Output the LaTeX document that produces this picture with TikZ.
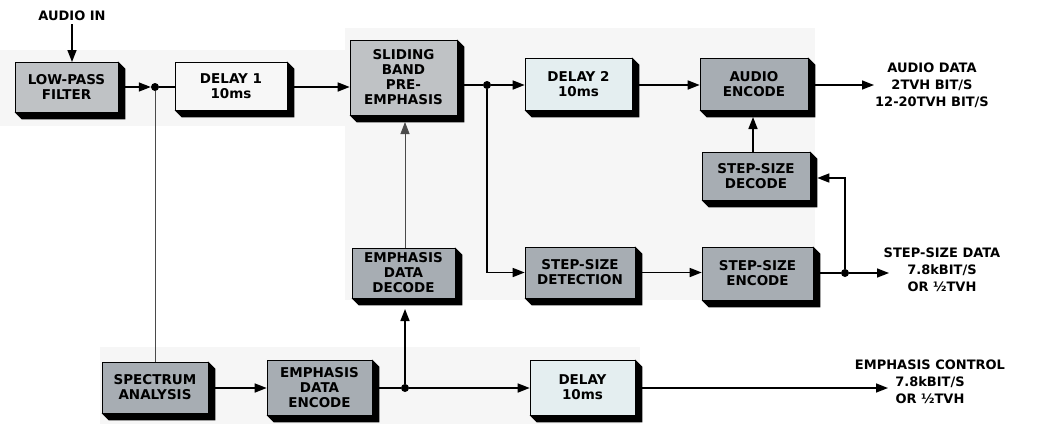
\documentclass[tikz,border=0pt]{standalone}
\usepackage{fontspec}
\setmainfont{DejaVu Sans}
\usetikzlibrary{arrows.meta,calc,backgrounds}
\definecolor{stipple}{HTML}{A7ADB3}
\definecolor{stipplelt}{HTML}{BFC2C5}
\definecolor{paleblue}{HTML}{E4EEF0}
\definecolor{scanbg}{HTML}{F6F6F6}
\definecolor{thinline}{HTML}{4A4A4A}

\begin{document}
\begin{tikzpicture}[x=1pt, y=-1pt,
  blockbox/.style={rectangle, draw=black, line width=0.6pt, inner sep=0pt,
    minimum width=106pt, minimum height=51pt, align=center,
    font=\fontsize{13.5}{15}\selectfont\bfseries},
  greybox/.style={blockbox, fill=stipple},
  lightbox/.style={blockbox, fill=paleblue},
  outlabel/.style={align=center, font=\fontsize{13}{17}\selectfont\bfseries},
  jdot/.style={circle, fill=black, inner sep=0pt, minimum size=8pt},
  conn/.style={line width=1.5pt},
  arr/.style={conn, -{Triangle[length=12pt,width=9pt]}},
  thinconn/.style={draw=thinline, line width=0.8pt},
]
\useasboundingbox (0,0) rectangle (1038,424);

% input
\node[outlabel] (ainlbl) at (72,16) {AUDIO IN};
\node[greybox, fill=stipplelt, minimum width=103pt, minimum height=50pt] (lpf) at (66.5,87) {LOW-PASS\\FILTER};
\draw[arr] (ainlbl.south -| 72,0) -- (72,62);

% top row
\node[jdot] (j1) at (155,87) {};
\node[lightbox, fill=white!97!black, minimum width=112pt, minimum height=48pt] (delay1) at (231,86) {DELAY 1\\10ms};
\node[greybox, fill=stipplelt, minimum width=107pt, minimum height=75pt] (slide) at (403.5,77.5) {SLIDING\\BAND\\PRE-\\EMPHASIS};
\node[jdot] (j2) at (487,85) {};
\node[lightbox, minimum width=107pt, minimum height=52pt] (delay2) at (578.5,84) {DELAY 2\\10ms};
\node[greybox, minimum width=108pt, minimum height=52pt] (aenc) at (754,84) {AUDIO\\ENCODE};
\coordinate (aout) at (874,85);
\node[outlabel] (adata) at (932,85) {AUDIO DATA\\2TVH BIT/S\\12-20TVH BIT/S};
\draw[arr] (lpf.east |- j1) -- (j1);
\draw[conn] (j1) -- (j1 -| delay1.west);
\draw[arr] (delay1.east |- j1) -- (j1 -| slide.west);
\draw[conn] (slide.east |- j2) -- (j2);
\draw[arr] (j2) -- (j2 -| delay2.west);
\draw[arr] (delay2.east |- j2) -- (j2 -| aenc.west);
\draw[arr] (aenc.east |- aout) -- (aout);

% step-size path
\node[greybox, minimum width=108pt, minimum height=48pt] (ssdec) at (756,176) {STEP-SIZE\\DECODE};
\node[greybox, minimum width=110pt, minimum height=51pt] (ssdet) at (580,272.5) {STEP-SIZE\\DETECTION};
\node[greybox, minimum width=111pt, minimum height=53pt] (ssenc) at (757.5,273.5) {STEP-SIZE\\ENCODE};
\node[jdot] (j3) at (845,273) {};
\coordinate (sout) at (889,273);
\node[outlabel] (sdata) at (942,270) {STEP-SIZE DATA\\7.8kBIT/S\\OR ½TVH};
\draw[arr] (j2) |- (ssdet.west);
\draw[arr] (ssdet.east) -- (ssdet.east -| ssenc.west);
\draw[conn] (ssenc.east |- j3) -- (j3);
\draw[arr] (j3) -- (sout);
\draw[arr] (j3) |- ($(ssdec.east)+(7,2)$);
\draw[arr] (753,152) -- (753,117);

% emphasis path
\node[greybox, minimum width=103pt, minimum height=50pt] (edec) at (403.5,273) {EMPHASIS\\DATA\\DECODE};
\node[greybox, minimum width=106pt, minimum height=51pt] (spec) at (155,387.5) {SPECTRUM\\ANALYSIS};
\node[greybox, minimum width=105pt, minimum height=55pt] (eenc) at (319.5,387.5) {EMPHASIS\\DATA\\ENCODE};
\node[jdot] (j4) at (405,388) {};
\node[lightbox, minimum width=105pt, minimum height=55pt] (delay3) at (582.5,387.5) {DELAY\\10ms};
\coordinate (eout) at (888,388);
\node[outlabel] (ectrl) at (930,382) {EMPHASIS CONTROL\\7.8kBIT/S\\OR ½TVH};
\draw[thinconn] (j1) -- (spec.north);
\draw[thinconn, -{Triangle[length=12pt,width=9pt]}] (edec.north -| 405,0) -- (405,122);
\draw[arr] (spec.east |- j4) -- (j4 -| eenc.west);
\draw[conn] (eenc.east |- j4) -- (j4);
\draw[arr] (j4) -- (405,309);
\draw[arr] (j4) -- (j4 -| delay3.west);
\draw[arr] (delay3.east |- j4) -- (eout);

% scan tint and block depth
\begin{scope}[on background layer]
\fill[scanbg] (0,50) rectangle (345,126);
\fill[scanbg] (345,28) rectangle (815,300);
\fill[scanbg] (100,347) rectangle (640,424);
\foreach \b in {lpf,delay1,slide,delay2,aenc,ssdec,ssdet,ssenc,edec,spec,eenc,delay3}
  \fill[black] (\b.north east) -- ++(7,7) -- ($(\b.south east)+(7,7)$)
    -- ($(\b.south west)+(7,7)$) -- (\b.south west) -- cycle;
\end{scope}
\end{tikzpicture}
\end{document}
